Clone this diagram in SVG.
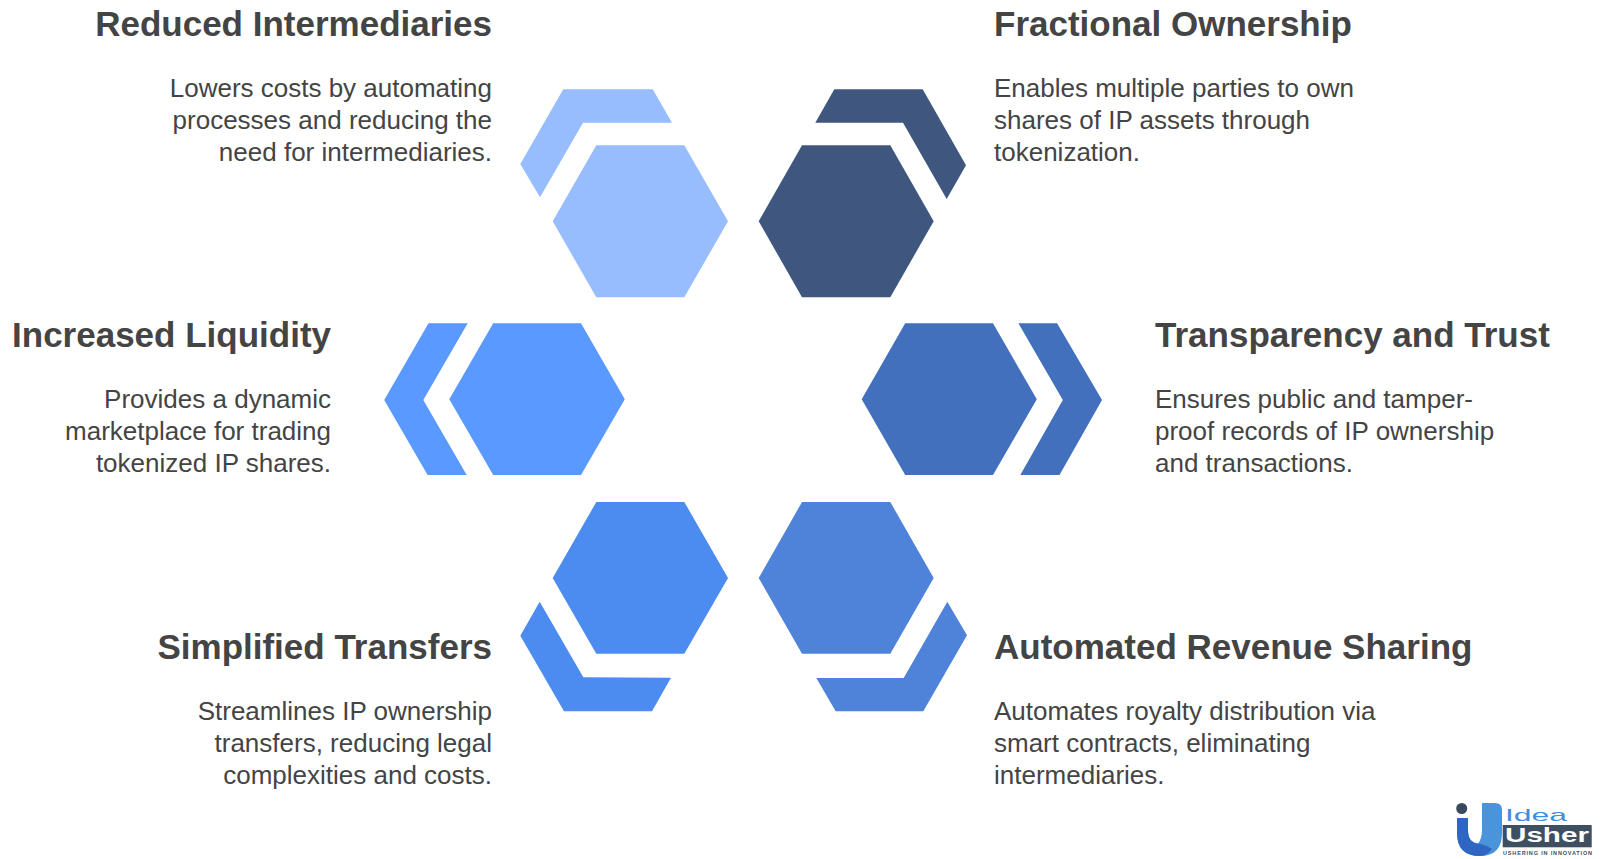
<svg xmlns="http://www.w3.org/2000/svg" width="1600" height="859" viewBox="0 0 1600 859">
<style>
text{font-family:"Liberation Sans",Arial,sans-serif;fill:#444}
.t{font-size:35px;font-weight:700}
.b{font-size:26px}
.e{text-anchor:end}
</style>
<rect width="1600" height="859" fill="#fff"/>
<g id="node-reduced-intermediaries" fill="#97bdff">
<polygon points="596.3,145.3 684.3,145.3 728,221.3 684.3,297.3 596.3,297.3 552.7,221.3"/>
<polygon points="563.3,89.3 652.7,89.3 672,122.7 583,122.7 540,197.3 520.3,164"/>
<text class="t e" x="492" y="36">Reduced Intermediaries</text>
<text class="b e" x="492" y="97">Lowers costs by automating</text>
<text class="b e" x="492" y="129">processes and reducing the</text>
<text class="b e" x="492" y="161">need for intermediaries.</text>
</g>
<g id="node-fractional-ownership" fill="#3f577e">
<polygon points="802,145.3 890.3,145.3 933.7,221.3 890.3,297.3 802,297.3 758.7,221.3"/>
<polygon points="834.3,89.3 922.7,89.3 966,165.3 946.7,199 903,122.7 815.3,122.7"/>
<text class="t" x="994" y="36">Fractional Ownership</text>
<text class="b" x="994" y="97">Enables multiple parties to own</text>
<text class="b" x="994" y="129">shares of IP assets through</text>
<text class="b" x="994" y="161">tokenization.</text>
</g>
<g id="node-increased-liquidity" fill="#5a99ff">
<polygon points="493.2,323.3 581,323.3 624.8,399.3 581,475 493.2,475 449.3,399.3"/>
<polygon points="428.5,323.3 467.7,323.3 423.3,400 466.7,475 427.6,475 384.2,400"/>
<text class="t e" x="331" y="347">Increased Liquidity</text>
<text class="b e" x="331" y="408">Provides a dynamic</text>
<text class="b e" x="331" y="440">marketplace for trading</text>
<text class="b e" x="331" y="472">tokenized IP shares.</text>
</g>
<g id="node-transparency-trust" fill="#4270bd">
<polygon points="905.2,323.3 993,323.3 1036.8,399.3 993,475 905.2,475 861.7,399.3"/>
<polygon points="1018.4,323.3 1057.1,323.3 1102,400 1059.5,475 1020.3,475 1062.8,400"/>
<text class="t" x="1155" y="347">Transparency and Trust</text>
<text class="b" x="1155" y="408">Ensures public and tamper-</text>
<text class="b" x="1155" y="440">proof records of IP ownership</text>
<text class="b" x="1155" y="472">and transactions.</text>
</g>
<g id="node-simplified-transfers" fill="#4c8bef">
<polygon points="596.3,502 684.3,502 728,578 684.3,653.7 596.3,653.7 552.7,578"/>
<polygon points="539.7,601.7 583.3,677.3 671,677.7 652,711.3 564,711.3 520.3,635.7"/>
<text class="t e" x="492" y="659">Simplified Transfers</text>
<text class="b e" x="492" y="720">Streamlines IP ownership</text>
<text class="b e" x="492" y="752">transfers, reducing legal</text>
<text class="b e" x="492" y="784">complexities and costs.</text>
</g>
<g id="node-automated-revenue" fill="#4f83da">
<polygon points="802,502 890.3,502 933.7,578 890.3,653.7 802,653.7 758.7,578"/>
<polygon points="816.3,678 903.7,678 947.3,601.7 967,635.3 923.3,711.3 835.7,711.3"/>
<text class="t" x="994" y="659">Automated Revenue Sharing</text>
<text class="b" x="994" y="720">Automates royalty distribution via</text>
<text class="b" x="994" y="752">smart contracts, eliminating</text>
<text class="b" x="994" y="784">intermediaries.</text>
</g>
<g id="logo">
<circle cx="1461.7" cy="808.5" r="5.5" fill="#3a4a5c"/>
<path d="M1482 803H1495Q1502 803 1502 810V833Q1502 856 1480 856Q1457 856 1457 833V818H1468V830Q1468 843 1478 844Q1482 838 1482 830Z" fill="#4a94dc"/>
<path d="M1457 818H1468V830Q1468 843 1479 843.500Q1486 845 1492 849Q1487 856 1480 856Q1457 856 1457 833Z" fill="#2f66c4"/>
<rect x="1502.700" y="825" width="89" height="22.300" fill="#3d4f60"/>
<text x="1505" y="821" font-size="17" textLength="62" lengthAdjust="spacingAndGlyphs" style="fill:#3f8ede">Idea</text>
<text x="1505" y="842" font-size="20" font-weight="700" textLength="84" lengthAdjust="spacingAndGlyphs" style="fill:#fff">Usher</text>
<text x="1503" y="855" font-size="5.500" font-weight="700" textLength="89" style="fill:#3d4f60">USHERING IN INNOVATION</text>
</g>
<g id="connectors"/>
</svg>
